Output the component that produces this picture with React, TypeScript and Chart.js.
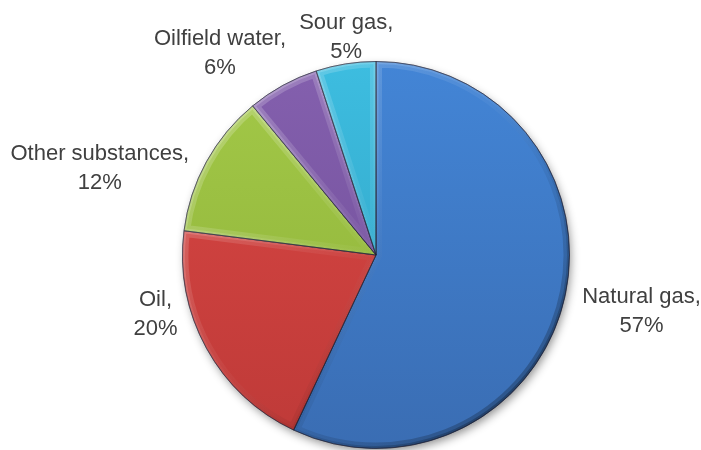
import React, { useEffect, useRef } from "react";
import { Chart, registerables } from "chart.js";

Chart.register(...registerables);

const categories = ["Natural gas", "Oil", "Other substances", "Oilfield water", "Sour gas"];
const shares = [57, 20, 12, 6, 5];
const colorsTop = ["#4385D6", "#DA4744", "#A3C948", "#8460AE", "#3DBDE0"];
const colorsBottom = ["#3A6DB3", "#BE3A38", "#8DB038", "#6E4C96", "#2F9FC0"];
// label layout nudges: angle shift (deg) from slice middle, distance beyond rim (px)
const labelAngleShift = [-0.5, 13.6, -11.4, -9.0, 1.2];
const labelExtra = [78, 35, 96, 61, 26];

const bevelPlugin = {
  id: "bevel",
  beforeDatasetsDraw(chart: any) {
    const meta = chart.getDatasetMeta(0);
    const a = meta.data[0];
    if (!a) return;
    const ctx = chart.ctx;
    ctx.save();
    ctx.beginPath();
    ctx.arc(a.x, a.y, a.outerRadius - 1, 0, Math.PI * 2);
    ctx.fillStyle = "#ffffff";
    ctx.shadowColor = "rgba(0,0,0,0.45)";
    ctx.shadowBlur = 10;
    ctx.shadowOffsetX = 2;
    ctx.shadowOffsetY = 4;
    ctx.fill();
    ctx.restore();
  },
  afterDatasetsDraw(chart: any) {
    const meta = chart.getDatasetMeta(0);
    const ctx = chart.ctx;
    meta.data.forEach((arc: any) => {
      const { x, y, startAngle, endAngle, outerRadius } = arc;
      ctx.save();
      ctx.beginPath();
      ctx.moveTo(x, y);
      ctx.arc(x, y, outerRadius, startAngle, endAngle);
      ctx.closePath();
      ctx.clip();
      const g = ctx.createLinearGradient(x - outerRadius, y - outerRadius, x + outerRadius, y + outerRadius);
      g.addColorStop(0, "rgba(255,255,255,0.28)");
      g.addColorStop(0.45, "rgba(255,255,255,0.04)");
      g.addColorStop(0.6, "rgba(0,0,0,0.05)");
      g.addColorStop(1, "rgba(0,0,0,0.35)");
      ctx.strokeStyle = g;
      ctx.beginPath();
      ctx.moveTo(x, y);
      ctx.arc(x, y, outerRadius, startAngle, endAngle);
      ctx.closePath();
      ctx.lineWidth = 12;
      ctx.stroke();
      ctx.lineWidth = 5;
      ctx.stroke();
      ctx.restore();
      ctx.save();
      ctx.beginPath();
      ctx.moveTo(x, y);
      ctx.arc(x, y, outerRadius, startAngle, endAngle);
      ctx.closePath();
      ctx.lineWidth = 1;
      ctx.strokeStyle = "rgba(30,30,50,0.45)";
      ctx.stroke();
      ctx.restore();
    });
  },
  afterDraw(chart: any) {
    const meta = chart.getDatasetMeta(0);
    const ctx = chart.ctx;
    ctx.save();
    ctx.font = "22px 'Liberation Sans', Arial, sans-serif";
    ctx.fillStyle = "#404040";
    ctx.textAlign = "center";
    ctx.textBaseline = "middle";
    meta.data.forEach((arc: any, i: number) => {
      const mid = (arc.startAngle + arc.endAngle) / 2 + (labelAngleShift[i] * Math.PI) / 180;
      const d = arc.outerRadius + labelExtra[i];
      const cx = arc.x + Math.cos(mid) * d;
      const cy = arc.y + Math.sin(mid) * d;
      ctx.fillText(categories[i] + ",", cx, cy - 14.5);
      ctx.fillText(shares[i] + "%", cx, cy + 14.5);
    });
    ctx.restore();
  },
};

export default function App() {
  const ref = useRef<HTMLCanvasElement>(null);
  useEffect(() => {
    const canvas = ref.current!;
    const chart = new Chart(canvas, {
      type: "pie",
      data: {
        labels: categories,
        datasets: [
          {
            data: shares,
            backgroundColor: (c: any) => {
              const i = c.dataIndex;
              const area = c.chart.chartArea;
              if (!area) return colorsTop[i];
              const g = c.chart.ctx.createLinearGradient(0, area.top, 0, area.bottom);
              g.addColorStop(0, colorsTop[i]);
              g.addColorStop(1, colorsBottom[i]);
              return g;
            },
            borderColor: "rgba(40,40,60,0.55)",
            borderWidth: 1,
            hoverOffset: 0,
          },
        ],
      },
      options: {
        responsive: false,
        animation: false,
        layout: { padding: { left: 182, right: 131, top: 61, bottom: 1 } },
        plugins: { legend: { display: false }, tooltip: { enabled: false } },
      },
      plugins: [bevelPlugin],
    });
    return () => chart.destroy();
  }, []);
  return (
    <div style={{ position: "fixed", left: 0, top: 0, width: 701, height: 450, background: "#fff" }}>
      <canvas ref={ref} width={701} height={450} />
    </div>
  );
}
